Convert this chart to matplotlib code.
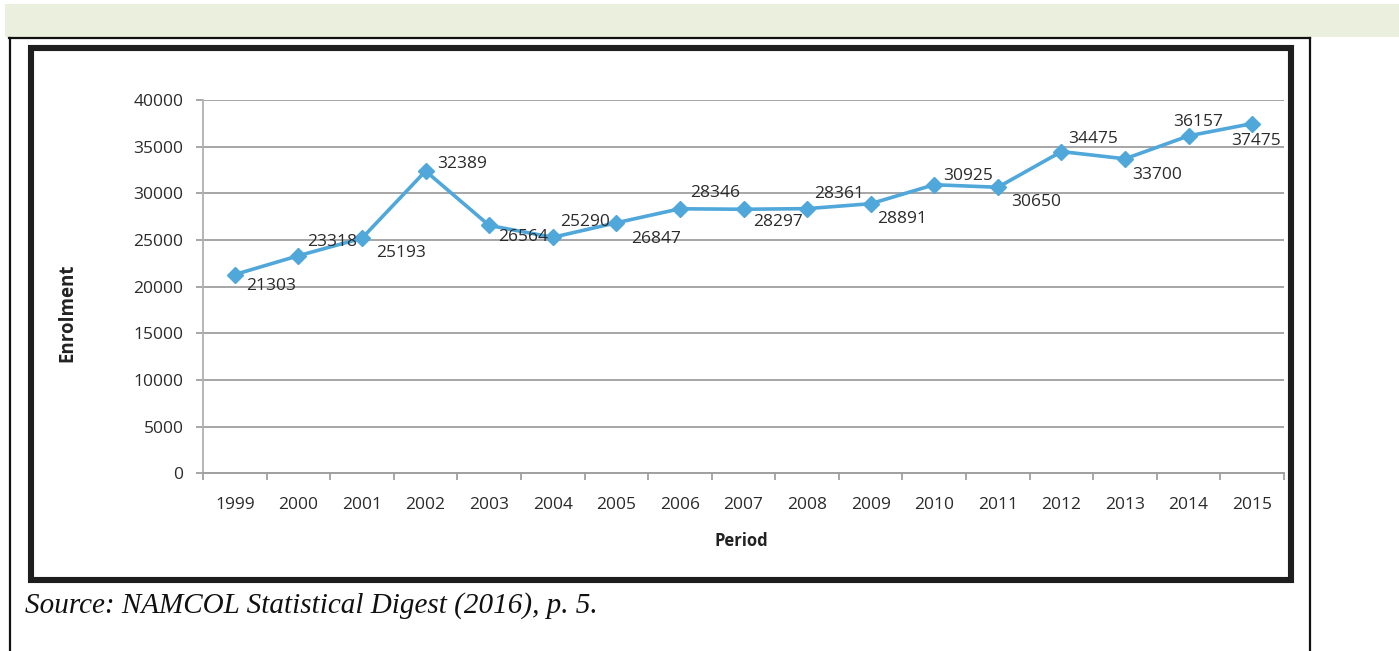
import matplotlib
matplotlib.use("Agg")
import matplotlib.pyplot as plt
from matplotlib.patches import Rectangle
from matplotlib.lines import Line2D

# ---- data ----
years = ["1999", "2000", "2001", "2002", "2003", "2004", "2005", "2006", "2007",
         "2008", "2009", "2010", "2011", "2012", "2013", "2014", "2015"]
enrolment = [21303, 23318, 25193, 32389, 26564, 25290, 26847, 28346, 28297,
             28361, 28891, 30925, 30650, 34475, 33700, 36157, 37475]
y_ticks = [0, 5000, 10000, 15000, 20000, 25000, 30000, 35000, 40000]

# label offsets in pixels (dx to left edge, dy to centre, screen-down positive)
label_offsets = [(11, 11), (9, -14), (14, 15), (12, -7), (9, 12), (7, -15),
                 (15, 16), (10, -16), (10, 13), (7, -15), (6, 15), (9, -9),
                 (13, 15), (7, -13), (7, 16), (-15, -14), (-21, 17)]

W, H = 1399, 651
fig = plt.figure(figsize=(W / 100, H / 100), dpi=100)
fig.patch.set_facecolor("white")

def fx(x):
    return x / W

def fy(y):
    return 1 - y / H

# green band at top
fig.patches.append(Rectangle((fx(5), fy(37)), fx(W - 5), (37 - 4) / H,
                             transform=fig.transFigure, facecolor="#EBF0DE",
                             edgecolor="none", zorder=0))
# thin table border
for (x0, y0, x1, y1) in [(9, 37.5, 1310, 37.5), (10, 37.5, 10, 651), (1309.5, 37.5, 1309.5, 651)]:
    fig.lines.append(Line2D([fx(x0), fx(x1)], [fy(y0), fy(y1)], transform=fig.transFigure,
                            color="#111111", lw=1.6))
# thick chart frame
fig.patches.append(Rectangle((fx(31), fy(580)), (1290.5 - 31) / W, (580 - 48) / H,
                             transform=fig.transFigure, facecolor="none",
                             edgecolor="#1e1e1e", linewidth=4.4, zorder=1))

# axes
ax_l, ax_r, ax_t, ax_b = 203, 1284, 100, 473.4
ax = fig.add_axes([fx(ax_l), fy(ax_b), (ax_r - ax_l) / W, (ax_b - ax_t) / H])
ax.set_facecolor("none")

x = list(range(len(years)))
ax.plot(x, enrolment, color="#4FA7DA", lw=2.6, marker="D", markersize=8.5,
        markeredgecolor="#4FA7DA", zorder=3, clip_on=False)

ax.set_xlim(-0.5, len(years) - 0.5)
ax.set_ylim(0, 40000)
ax.set_yticks(y_ticks)
ax.set_yticklabels([str(v) for v in y_ticks])
ax.set_xticks(x)
ax.set_xticklabels(years)
ax.set_xticks([i - 0.5 for i in range(len(years) + 1)], minor=True)

for lab in ax.get_xticklabels() + ax.get_yticklabels():
    lab.set_fontfamily("Open Sans")
    lab.set_fontsize(12.5)
    lab.set_color("#2b2b2b")

ax.tick_params(axis="x", which="major", length=0, pad=17)
ax.tick_params(axis="x", which="minor", length=5, width=1.3, color="#a0a0a0", direction="out")
ax.tick_params(axis="y", which="major", length=5, width=1.3, color="#a0a0a0", pad=9)

ax.grid(axis="y", color="#a6a6a6", lw=1.4)
ax.set_axisbelow(True)
for s in ["top", "right"]:
    ax.spines[s].set_visible(False)
ax.spines["left"].set_color("#b0b0b0")
ax.spines["left"].set_linewidth(1.3)
ax.spines["bottom"].set_color("#a0a0a0")
ax.spines["bottom"].set_linewidth(1.4)

for i, v in enumerate(enrolment):
    dx, dy = label_offsets[i]
    ax.annotate(str(v), (i, v), xytext=(dx, -dy), textcoords="offset pixels",
                ha="left", va="center", fontfamily="Open Sans", fontsize=12.5,
                color="#2b2b2b", zorder=4, annotation_clip=False)

# axis titles
fig.text(fx(67), fy(313), "Enrolment", rotation=90, ha="center", va="center",
         fontfamily="Open Sans", fontweight="bold", fontsize=13.5, color="#222222")
fig.text(fx(741), fy(541), "Period", ha="center", va="center",
         fontfamily="Open Sans", fontweight="bold", fontsize=12, color="#222222")

# source
fig.text(fx(25), fy(613), "Source: NAMCOL Statistical Digest (2016), p. 5.",
         ha="left", va="baseline", fontfamily="Liberation Serif", fontstyle="italic",
         fontsize=21, color="#111111")

fig.savefig("out.png", dpi=100)
